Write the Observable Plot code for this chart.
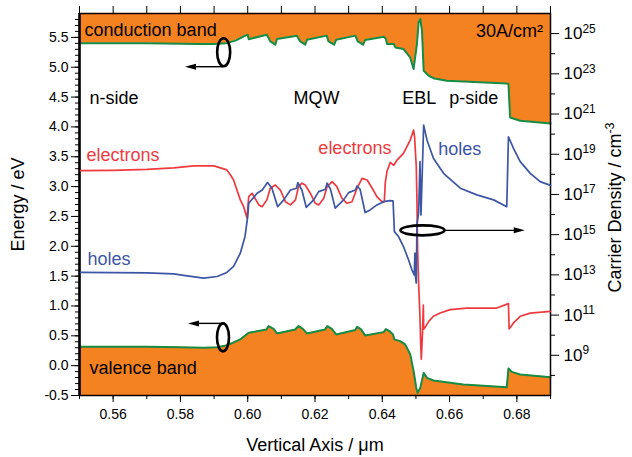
<!DOCTYPE html>
<html><head><meta charset="utf-8">
<script src="https://cdn.jsdelivr.net/npm/d3@7"></script>
<script src="https://cdn.jsdelivr.net/npm/@observablehq/plot@0.6"></script>
<style>
body{margin:0;background:#fff;}
#wrap{position:relative;width:632px;height:457px;}
#wrap svg{position:absolute;left:0;top:0;}
</style></head><body><div id="wrap"></div>
<script>
// ---------- data (x in µm) ----------
const xDomain = [0.55, 0.69];
const energyDomain = [-0.5, 5.9];          // eV
const densityDomainExp = [7, 26];          // log10(cm^-3)

// conduction band edge [x, eV]
const conductionBand = [[0.550,5.40],[0.570,5.40],[0.585,5.39],[0.590,5.39],[0.5935,5.40],[0.5965,5.45],[0.5993,5.53],[0.6000,5.545],[0.6003,5.47],[0.6057,5.545],[0.6067,5.433],[0.6082,5.378],[0.6087,5.473],[0.6146,5.529],[0.6156,5.433],[0.6171,5.378],[0.6176,5.461],[0.6235,5.529],[0.6240,5.433],[0.6257,5.378],[0.6263,5.461],[0.6320,5.529],[0.6327,5.433],[0.6343,5.378],[0.6349,5.456],[0.6405,5.51],[0.6411,5.47],[0.6414,5.389],[0.6434,5.389],[0.6439,5.332],[0.6463,5.305],[0.6483,5.164],[0.6493,4.97],[0.6503,5.389],[0.6508,5.752],[0.6513,5.808],[0.6518,5.61],[0.6523,4.94],[0.6538,4.857],[0.6555,4.81],[0.6592,4.773],[0.6770,4.728],[0.6775,4.718],[0.6780,4.158],[0.6810,4.102],[0.6900,4.057]];

// valence band edge [x, eV]
const valenceBand = [[0.550,0.315],[0.570,0.315],[0.580,0.31],[0.587,0.30],[0.591,0.31],[0.594,0.344],[0.5978,0.44],[0.6003,0.55],[0.6056,0.607],[0.6062,0.663],[0.6077,0.617],[0.6087,0.540],[0.6141,0.607],[0.6151,0.663],[0.6164,0.617],[0.6176,0.540],[0.6230,0.607],[0.6237,0.663],[0.6250,0.617],[0.6263,0.523],[0.6320,0.596],[0.6325,0.651],[0.6337,0.607],[0.6349,0.507],[0.6404,0.562],[0.6411,0.612],[0.6421,0.579],[0.6432,0.523],[0.6436,0.44],[0.6453,0.411],[0.6468,0.356],[0.6483,0.19],[0.6493,-0.09],[0.6501,-0.37],[0.6505,-0.456],[0.6513,-0.372],[0.6523,-0.121],[0.6533,-0.205],[0.6552,-0.249],[0.6641,-0.316],[0.6770,-0.361],[0.6775,-0.047],[0.6785,-0.104],[0.6810,-0.148],[0.6900,-0.193]];

// electron density [x, log10(n / cm^-3)]
const electrons = [[0.5503,18.18],[0.560,18.20],[0.570,18.25],[0.578,18.32],[0.584,18.42],[0.590,18.42],[0.5938,18.22],[0.5949,17.97],[0.5958,17.72],[0.5968,17.22],[0.5978,16.73],[0.5988,16.39],[0.5998,15.82],[0.6003,16.89],[0.6013,17.06],[0.6033,16.48],[0.6043,16.39],[0.6057,16.73],[0.6067,17.31],[0.6082,17.47],[0.6097,17.22],[0.6112,16.64],[0.6127,16.48],[0.6142,16.73],[0.6151,17.39],[0.6161,17.56],[0.6171,17.47],[0.6186,17.06],[0.6201,16.56],[0.6211,16.48],[0.6226,16.81],[0.6236,17.39],[0.6251,17.64],[0.6265,17.39],[0.6280,16.81],[0.6295,16.56],[0.6310,16.64],[0.6325,17.31],[0.6340,17.80],[0.6355,17.72],[0.6370,17.31],[0.6384,16.89],[0.6399,16.64],[0.6406,16.64],[0.6409,17.6],[0.6414,18.15],[0.6424,18.6],[0.6434,18.45],[0.6444,18.71],[0.6463,19.04],[0.6483,19.70],[0.6493,20.2],[0.6496,19.87],[0.6501,18.4],[0.6503,16.7],[0.6505,14.3],[0.6508,12.6],[0.6512,10.9],[0.6514,9.6],[0.6516,8.8],[0.6520,10.3],[0.6522,11.5],[0.6523,10.3],[0.6528,10.4],[0.6538,10.69],[0.6552,10.94],[0.6572,11.10],[0.6602,11.27],[0.6651,11.35],[0.6740,11.35],[0.6775,11.57],[0.6777,10.31],[0.6790,10.61],[0.6810,10.94],[0.6840,11.10],[0.6900,11.18]];

// hole density [x, log10(p / cm^-3)]
const holes = [[0.5503,13.12],[0.570,13.10],[0.578,13.05],[0.582,12.95],[0.5869,12.84],[0.5909,12.92],[0.5938,13.12],[0.5958,13.42],[0.5978,14.08],[0.5992,14.91],[0.6000,15.9],[0.6003,16.56],[0.6028,17.06],[0.6043,17.22],[0.6059,17.59],[0.6072,17.31],[0.6089,16.39],[0.6107,16.73],[0.6127,17.22],[0.6145,17.31],[0.6149,17.59],[0.6161,17.22],[0.6174,16.36],[0.6196,16.73],[0.6211,17.14],[0.6231,17.26],[0.6236,17.56],[0.6246,17.26],[0.6260,16.32],[0.6285,16.73],[0.6300,17.09],[0.6320,17.22],[0.6325,17.42],[0.6334,17.26],[0.6349,16.10],[0.6364,16.23],[0.6384,16.48],[0.6404,16.64],[0.6422,16.69],[0.6432,16.68],[0.6436,15.15],[0.6448,14.91],[0.6463,14.41],[0.6478,13.75],[0.6488,13.25],[0.6495,13.0],[0.6497,14.08],[0.6498,13.0],[0.6501,12.59],[0.6503,15.5],[0.6508,16.1],[0.6512,18.63],[0.6515,15.98],[0.6523,20.45],[0.6533,19.70],[0.6552,18.80],[0.6582,18.05],[0.6632,17.31],[0.6681,16.98],[0.6731,16.73],[0.6770,16.39],[0.6775,19.87],[0.6790,19.29],[0.6810,18.63],[0.6840,18.05],[0.6869,17.64],[0.6900,17.45]];

// ticks
const xMajorTicks = [0.56, 0.58, 0.60, 0.62, 0.64, 0.66, 0.68];
const xMinorTicks = [0.55,0.56,0.57,0.58,0.59,0.60,0.61,0.62,0.63,0.64,0.65,0.66,0.67,0.68,0.69];
const energyMajorTicks = [-0.5,0,0.5,1,1.5,2,2.5,3,3.5,4,4.5,5,5.5];
const energyMinorTicks = d3.range(-5, 59).map(i => i / 10);
const densityMajorExp = [9, 11, 13, 15, 17, 19, 21, 23, 25];
const densityMinorExp = [8, 10, 12, 14, 16, 18, 20, 22, 24];

// labels [text, x, y(eV), color] — left-anchored
const energyLabels = [
  ["conduction band", 0.5515, 5.529, "#000"],
  ["n-side", 0.5530, 4.388, "#000"],
  ["MQW", 0.6136, 4.388, "#000"],
  ["EBL", 0.6459, 4.388, "#000"],
  ["p-side", 0.6599, 4.388, "#000"],
  ["electrons", 0.5521, 3.431, "#ee3a3f"],
  ["electrons", 0.6210, 3.554, "#ee3a3f"],
  ["holes", 0.6566, 3.532, "#3c55a5"],
  ["holes", 0.5524, 1.686, "#3c55a5"],
  ["valence band", 0.5530, -0.138, "#000"]
];
// right-anchored label
const currentLabel = [["30A/cm²", 0.6878, 5.512, "#000"]];

// annotation rings and arrows (positions in data units)
const energyRings = [{x: 0.5930, y: 5.243, rx: 6.5, ry: 14}, {x: 0.5928, y: 0.466, rx: 6, ry: 14}];
const energyArrows = [{x1: 0.5928, x2: 0.5815, y: 5.0}, {x1: 0.5928, x2: 0.5824, y: 0.70}];
const densityRings = [{x: 0.6521, yExp: 15.19, rx: 22, ry: 5}];
const densityArrows = [{x1: 0.6587, x2: 0.6825, yExp: 15.19}];

// ---------- drawing ----------
const W = 632, H = 457;
const margins = {marginLeft: 79, marginRight: 82, marginTop: 13, marginBottom: 62};
const ORANGE = "#f58220", GREEN = "#168c45", RED = "#ee3a3f", BLUE = "#3c55a5";
const FONT = "'Liberation Sans', Arial, sans-serif";

function annotate(rings, arrows, yOf) {
  return (index, scales) => {
    const g = d3.create("svg:g");
    for (const r of rings) {
      g.append("ellipse").attr("cx", scales.x(r.x)).attr("cy", scales.y(yOf(r)))
        .attr("rx", r.rx).attr("ry", r.ry).attr("fill", "none")
        .attr("stroke", "#000").attr("stroke-width", 2.6);
    }
    for (const a of arrows) {
      const x1 = scales.x(a.x1), x2 = scales.x(a.x2), y = scales.y(yOf(a));
      const dir = Math.sign(x2 - x1);
      g.append("line").attr("x1", x1).attr("x2", x2 - dir * 9).attr("y1", y).attr("y2", y)
        .attr("stroke", "#000").attr("stroke-width", 1.4);
      g.append("path").attr("d", `M${x2},${y}L${x2 - dir * 11},${y - 3}L${x2 - dir * 11},${y + 3}Z`).attr("fill", "#000");
    }
    return g.node();
  };
}

const energyPlot = Plot.plot({
  width: W, height: H, ...margins,
  style: {fontFamily: FONT, fontSize: "14px", color: "#000", background: "#fff"},
  x: {domain: xDomain, axis: null},
  y: {domain: energyDomain, axis: null},
  marks: [
    Plot.areaY(conductionBand, {x: d => d[0], y1: d => d[1], y2: () => energyDomain[1], fill: ORANGE}),
    Plot.areaY(valenceBand, {x: d => d[0], y1: () => energyDomain[0], y2: d => d[1], fill: ORANGE}),
    Plot.line(conductionBand, {x: d => d[0], y: d => d[1], stroke: GREEN, strokeWidth: 2}),
    Plot.line(valenceBand, {x: d => d[0], y: d => d[1], stroke: GREEN, strokeWidth: 2}),
    Plot.text(energyLabels, {x: d => d[1], y: d => d[2], text: d => d[0], fill: d => d[3], textAnchor: "start", lineAnchor: "bottom", fontSize: 18}),
    Plot.text(currentLabel, {x: d => d[1], y: d => d[2], text: d => d[0], fill: d => d[3], textAnchor: "end", lineAnchor: "bottom", fontSize: 18}),
    Plot.axisY(energyMajorTicks, {anchor: "left", tickSize: 8, tickPadding: 3, tickFormat: d => d.toFixed(1), fontSize: 14, label: null}),
    Plot.axisY(energyMinorTicks, {anchor: "left", tickSize: 4, tickFormat: () => "", label: null}),
    Plot.axisX(xMajorTicks, {anchor: "bottom", tickSize: 7, tickPadding: 7, tickFormat: d => d.toFixed(2), fontSize: 14, label: null}),
    Plot.axisX(xMinorTicks, {anchor: "bottom", tickSize: 4, tickFormat: () => "", label: null}),
    Plot.axisX(xMinorTicks, {anchor: "top", tickSize: 8, tickFormat: () => "", label: null}),
    Plot.frame({stroke: "#000", strokeWidth: 1.5}),
    Plot.ruleX([xDomain[0]], {stroke: "#000", strokeWidth: 2.5}),
    annotate(energyRings, energyArrows, d => d.y),
    Plot.text(["Energy / eV"], {frameAnchor: "left", rotate: -90, dx: -56, textAnchor: "middle", lineAnchor: "bottom", fontSize: 18}),
    Plot.text(["Vertical Axis / μm"], {frameAnchor: "bottom", dy: 55, textAnchor: "middle", lineAnchor: "bottom", fontSize: 18})
  ]
});

const pow = e => Math.pow(10, e);
const densityPlot = Plot.plot({
  width: W, height: H, ...margins,
  style: {fontFamily: FONT, fontSize: "14px", color: "#000", background: "transparent"},
  x: {domain: xDomain, axis: null},
  y: {type: "log", domain: densityDomainExp.map(pow), axis: null},
  marks: [
    Plot.line(electrons, {x: d => d[0], y: d => pow(d[1]), stroke: RED, strokeWidth: 1.7}),
    Plot.line(holes, {x: d => d[0], y: d => pow(d[1]), stroke: BLUE, strokeWidth: 1.7}),
    Plot.axisY(densityMajorExp.map(pow), {anchor: "right", tickSize: 8, tickPadding: 5, fontSize: 17, tickFormat: d => "10^" + Math.round(Math.log10(d)), label: null}),
    Plot.axisY(densityMinorExp.map(pow), {anchor: "right", tickSize: 4, tickFormat: () => "", label: null}),
    annotate(densityRings, densityArrows, d => pow(d.yExp)),
    Plot.text(["Carrier Density / cm^-3"], {frameAnchor: "right", rotate: -90, dx: 70, dy: 3, textAnchor: "middle", lineAnchor: "bottom", fontSize: 18})
  ]
});

// render exponents as raised text
d3.select(densityPlot).selectAll("text").each(function () {
  const t = this.textContent;
  const m = /^(.*)\^(-?\d+)$/.exec(t);
  if (!m) return;
  const s = d3.select(this);
  s.text(null);
  s.append("tspan").text(m[1]);
  s.append("tspan").attr("dy", "-0.55em").attr("font-size", "0.7em").text(m[2]);
});

document.getElementById("wrap").append(energyPlot, densityPlot);
</script>
</body></html>
